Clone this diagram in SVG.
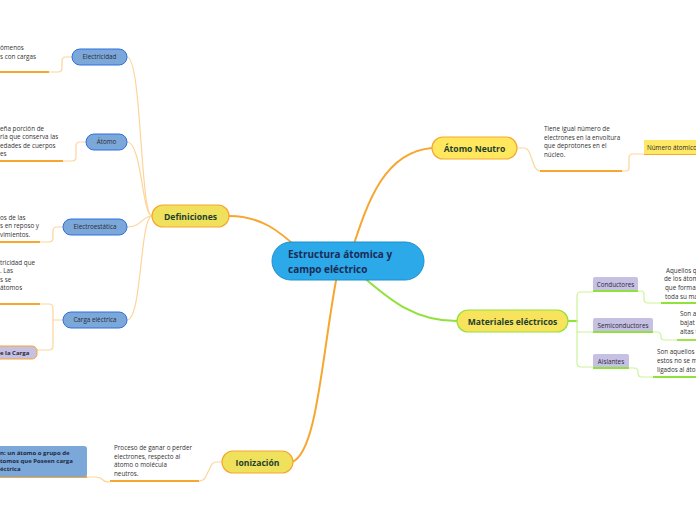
<svg xmlns="http://www.w3.org/2000/svg" width="696" height="520" viewBox="0 0 696 520">
<style>
text{font-family:"Open Sans","Noto Sans","Liberation Sans",sans-serif;}
.t{font-size:6.3px;fill:#333;}
.nt{font-size:6.3px;fill:#2a2a3a;text-anchor:middle;}
.mt{font-size:8.6px;font-weight:bold;fill:#1e3f2c;text-anchor:middle;}
.main{fill:none;stroke:#F7A630;stroke-width:2;stroke-linecap:round;}
.lo{fill:none;stroke:#FDD59B;stroke-width:1.2;}
.ul{fill:none;stroke:#F7A630;stroke-width:1.8;}
.gmain{fill:none;stroke:#8FE23A;stroke-width:2;stroke-linecap:round;}
.lg{fill:none;stroke:#CBF39A;stroke-width:1.2;}
.gul{fill:none;stroke:#8FE23A;stroke-width:1.8;}
.blue{fill:#7BA8D8;stroke:#2D6FE2;stroke-width:1;}
.yel{fill:#F0E15C;stroke:#F7A630;stroke-width:1.2;}
.pur{fill:#C6C0E2;stroke:none;}
</style>
<rect width="696" height="520" fill="#fff"/>
<g id="connectors">
<path class="main" d="M229,216 C262,216 280,232 300,250"/>
<path class="main" d="M352,250 C368,200 385,152 432,148"/>
<path class="gmain" d="M355,270 C385,295 410,321 457,321"/>
<path class="main" d="M338,270 C322,350 318,452 292,462"/>
<path class="lo" d="M152,216 C140,216 142,57 127,57"/>
<path class="lo" d="M152,216 C142,216 142,142 127,142"/>
<path class="lo" d="M152,216 C142,216 142,227 127,227"/>
<path class="lo" d="M152,216 C140,216 142,320 127,320"/>
<path class="lo" d="M72,57 L66,57 Q62,57 62,61 L62,68 Q62,72 58,72 L49,72"/>
<path class="ul" d="M0,72 L49,72"/>
<path class="lo" d="M86,142 L80,142 Q76,142 76,146 L76,157 Q76,161 72,161 L63,161"/>
<path class="ul" d="M0,161 L63,161"/>
<path class="lo" d="M63,227 L57,227 Q53,227 53,231 L53,238 Q53,242 49,242 L40,242"/>
<path class="ul" d="M0,242 L40,242"/>
<path class="lo" d="M63,320 L53,320 M40,304 L49,304 Q53,304 53,308 L53,346 Q53,350 49,350 L37,350"/>
<path class="ul" d="M0,304 L40,304"/>
<path class="lo" d="M222,462 L216,462 Q212,462 210,468 L206,476 Q204,481 199,481"/>
<path class="ul" d="M110,481 L199,481"/>
<path class="lo" d="M87,477 L96,477 Q100,477 103,480 Q105,482 110,482"/>
<path class="ul" d="M0,477 L87,477"/>
<path class="lo" d="M517,148 L524,148 Q528,148 530,154 L534,165 Q536,171 541,171"/>
<path class="ul" d="M540,171 L622,171"/>
<path class="lo" d="M622,171 L626,171 Q629,171 629,167 L629,158 Q629,154 633,154 L644,154"/>
<path class="ul" d="M644,154 L696,154"/>
<path class="gmain" d="M568,321 L577,321"/>
<path class="lg" d="M593,292 L581,292 Q577,292 577,296 L577,363 Q577,367 581,367 L593,367 M577,331 Q577,332 581,332 L593,332"/>
<path class="lg" d="M638,291 L641,291 Q644,291 644,295 L644,299 Q644,303 648,303 L661,303"/>
<path class="gul" d="M661,303 L696,303"/>
<path class="lg" d="M653,332 L657,332 Q661,332 661,336 L661,337 Q661,340 665,340 L677,340"/>
<path class="gul" d="M677,340 L696,340"/>
<path class="lg" d="M629,368 L634,368 Q638,368 638,372 L638,373 Q638,377 642,377 L653,377"/>
<path class="gul" d="M653,377 L696,377"/>
</g>
<g id="central">
<rect x="272" y="242" width="152" height="38" rx="19" fill="#2BA9E8" stroke="#1E8FD0" stroke-width="1"/>
<text x="288" y="258" style="font-size:10px;font-weight:bold;fill:#1B2B57">Estructura átomica y</text>
<text x="288" y="272.5" style="font-size:10px;font-weight:bold;fill:#1B2B57">campo eléctrico</text>
</g>
<g id="definiciones">
<rect class="yel" x="152" y="205" width="77" height="22" rx="11"/>
<text class="mt" x="190.5" y="219.5">Definiciones</text>
</g>
<g id="atomo-neutro">
<rect class="yel" x="432" y="137" width="85" height="22" rx="11" style="fill:#FFE85E"/>
<text class="mt" x="474.5" y="151.5">Átomo Neutro</text>
</g>
<g id="materiales">
<rect x="457" y="310" width="111" height="22" rx="11" fill="#F8E35C" stroke="#8FE23A" stroke-width="1.2"/>
<text class="mt" x="512.5" y="324.5">Materiales eléctricos</text>
</g>
<g id="ionizacion">
<rect class="yel" x="222" y="451" width="71" height="22" rx="11"/>
<text class="mt" x="257.5" y="465.5">Ionización</text>
</g>
<g id="electricidad">
<rect class="blue" x="72" y="49" width="55" height="16" rx="8"/>
<text class="nt" x="99.5" y="59.3">Electricidad</text>
</g>
<g id="electricidad-texto">
<text class="t" x="0" y="50">ómenos</text>
<text class="t" x="0" y="59">s con cargas</text>
</g>
<g id="atomo">
<rect class="blue" x="86" y="134" width="41" height="16" rx="8"/>
<text class="nt" x="106.5" y="144.3">Átomo</text>
</g>
<g id="atomo-texto">
<text class="t" x="0" y="130.5">eña porción de</text>
<text class="t" x="0" y="139">ria que conserva las</text>
<text class="t" x="0" y="147.5">edades de cuerpos</text>
<text class="t" x="0" y="156">es</text>
</g>
<g id="electroestatica">
<rect class="blue" x="63" y="219" width="64" height="16" rx="8"/>
<text class="nt" x="95" y="229.3">Electroestática</text>
</g>
<g id="electroestatica-texto">
<text class="t" x="0" y="219.5">os de las</text>
<text class="t" x="0" y="228">s en reposo y</text>
<text class="t" x="0" y="236.5">vimientos.</text>
</g>
<g id="carga-electrica">
<rect class="blue" x="63" y="312" width="64" height="16" rx="8"/>
<text class="nt" x="95" y="322.3">Carga eléctrica</text>
</g>
<g id="carga-texto">
<text class="t" x="0" y="265">tricidad que</text>
<text class="t" x="0" y="273">. Las</text>
<text class="t" x="0" y="281.5">s se</text>
<text class="t" x="0" y="290">átomos</text>
</g>
<g id="carga-hijo">
<rect x="-10" y="346" width="47" height="13" rx="5" fill="#C6C0E2" stroke="#F7A630" stroke-width="1"/>
<text x="0" y="354.5" style="font-size:6px;font-weight:bold;fill:#2a2a3a">e la Carga</text>
</g>
<g id="ionizacion-texto">
<text class="t" x="114" y="450">Proceso de ganar o perder</text>
<text class="t" x="114" y="458.5">electrones, respecto al</text>
<text class="t" x="114" y="467">átomo o molécula</text>
<text class="t" x="114" y="475.5">neutros.</text>
</g>
<g id="ion-definicion">
<rect x="-10" y="446" width="97" height="31" rx="3" fill="#7BA8D8"/>
<text x="0" y="455" style="font-size:6px;font-weight:bold;fill:#1d2a44">n: un átomo o grupo de</text>
<text x="0" y="463" style="font-size:6px;font-weight:bold;fill:#1d2a44">tomos que Poseen carga</text>
<text x="0" y="471" style="font-size:6px;font-weight:bold;fill:#1d2a44">éctrica</text>
</g>
<g id="atomo-neutro-texto">
<text class="t" x="544" y="131">Tiene igual número de</text>
<text class="t" x="544" y="139.5">electrones en la envoltura</text>
<text class="t" x="544" y="148">que deprotones en el</text>
<text class="t" x="544" y="156.5">núcleo.</text>
</g>
<g id="numero-atomico">
<rect x="644" y="140" width="60" height="14" fill="#FFE866"/>
<text x="647" y="149.5" style="font-size:6.3px;fill:#2a2a2a">Número átomico</text>
</g>
<g id="conductores">
<rect class="pur" x="593" y="277" width="45" height="14" rx="2"/>
<path class="gul" d="M593,291 L638,291"/>
<text class="nt" x="615.5" y="286.5">Conductores</text>
</g>
<g id="conductores-texto">
<text class="t" x="666" y="273">Aquellos q</text>
<text class="t" x="664" y="281">de los átom</text>
<text class="t" x="665" y="290">que forman</text>
<text class="t" x="665" y="299">toda su ma</text>
</g>
<g id="semiconductores">
<rect class="pur" x="593" y="318" width="60" height="14" rx="2"/>
<path class="gul" d="M593,332 L653,332"/>
<text class="nt" x="623" y="327.5">Semiconductores</text>
</g>
<g id="semiconductores-texto">
<text class="t" x="680" y="316">Son a</text>
<text class="t" x="680" y="325">bajat</text>
<text class="t" x="680" y="334">altas t</text>
</g>
<g id="aislantes">
<rect class="pur" x="593" y="354" width="36" height="14" rx="2"/>
<path class="gul" d="M593,368 L629,368"/>
<text class="nt" x="611" y="363.5">Aislantes</text>
</g>
<g id="aislantes-texto">
<text class="t" x="657" y="354">Son aquellos c</text>
<text class="t" x="657" y="363">estos no se m</text>
<text class="t" x="657" y="371.5">ligados al átom</text>
</g>
</svg>
